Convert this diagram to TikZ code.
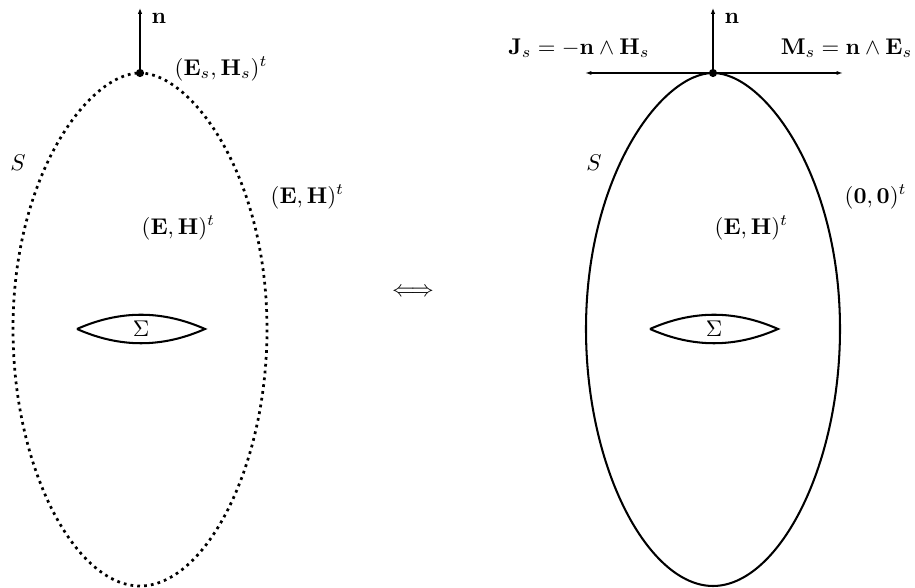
\documentclass[tikz,border=0pt]{standalone}
\usepackage{amsmath,amssymb}
\usetikzlibrary{positioning,arrows.meta}

\begin{document}
\begin{tikzpicture}[
  x=0.44pt, y=-0.44pt,
  surf/.style={line width=0.9pt},
  dotsurf/.style={line width=1.2pt, dash pattern=on 0.01pt off 3pt, line cap=rect},
  lens/.style={line width=0.9pt},
  normal/.style={line width=1.3pt, -{Latex[length=2.6pt, width=2pt]}},
  arr/.style={line width=0.6pt, {Latex[length=2.8pt, width=1.8pt]}-{Latex[length=2.8pt, width=1.8pt]}},
  lbl/.style={inner sep=1pt}
]
\useasboundingbox (0,0) rectangle (915,588);

% left: field everywhere
\coordinate (topL) at (140,73);
\coordinate (nL) at (140,8);
\draw[dotsurf, shift={(140,329)}] (0,-256) .. controls (51,-256) and (127,-154) .. (127,0)
  .. controls (127,141) and (64,257) .. (0,257)
  .. controls (-64,257) and (-127,141) .. (-127,0)
  .. controls (-127,-154) and (-51,-256) .. (0,-256);
\draw[lens] (77,329) .. controls (120,310) and (162,310) .. (205,329)
  .. controls (162,348) and (120,348) .. (77,329);
\node (sigL) at (141,329) {$\Sigma$};
\draw[normal] (topL) -- (nL);
\fill (topL) circle (1.8pt);
\node[lbl] (nlabL) at (159,18) {$\mathbf{n}$};
\node[lbl, anchor=west] (traceL) at (172,69) {$(\mathbf{E}_s,\mathbf{H}_s)^t$};
\node[lbl] (SL) at (18,163) {$S$};
\node[lbl, anchor=west] (outL) at (268,197) {$(\mathbf{E},\mathbf{H})^t$};
\node[lbl, anchor=west] (inL) at (139,228) {$(\mathbf{E},\mathbf{H})^t$};

\node (equiv) at (413,292) {$\Longleftrightarrow$};

% right: surface currents, zero field outside
\coordinate (topR) at (713,73);
\coordinate (nR) at (713,8);
\coordinate (jend) at (585,73);
\coordinate (mend) at (843,73);
\draw[surf, shift={(713,329)}] (0,-256) .. controls (51,-256) and (127,-154) .. (127,0)
  .. controls (127,141) and (64,257) .. (0,257)
  .. controls (-64,257) and (-127,141) .. (-127,0)
  .. controls (-127,-154) and (-51,-256) .. (0,-256);
\draw[lens] (650,329) .. controls (693,310) and (735,310) .. (778,329)
  .. controls (735,348) and (693,348) .. (650,329);
\node (sigR) at (714,329) {$\Sigma$};
\draw[arr] (jend) -- (mend);
\draw[normal] (topR) -- (nR);
\fill (topR) circle (1.8pt);
\node[lbl] (nlabR) at (732,18) {$\mathbf{n}$};
\node[lbl] (jlab) at (579,48) {$\mathbf{J}_s=-\mathbf{n}\wedge\mathbf{H}_s$};
\node[lbl, anchor=east] (mlab) at (915,48) {$\mathbf{M}_s=\mathbf{n}\wedge\mathbf{E}_s$};
\node[lbl] (SR) at (594,163) {$S$};
\node[lbl, anchor=west] (outR) at (842,197) {$(\mathbf{0},\mathbf{0})^t$};
\node[lbl, anchor=west] (inR) at (712,228) {$(\mathbf{E},\mathbf{H})^t$};
\end{tikzpicture}
\end{document}
